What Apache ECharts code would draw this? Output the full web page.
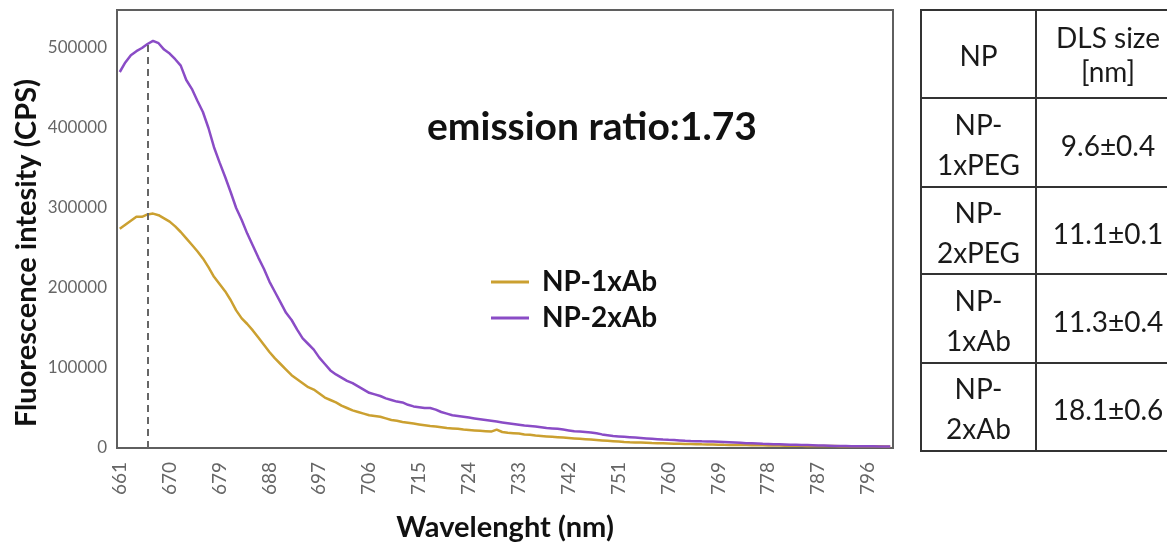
<!DOCTYPE html>
<html>
<head>
<meta charset="utf-8">
<script src="https://cdn.jsdelivr.net/npm/echarts@6/dist/echarts.min.js"></script>
<style>
html,body{margin:0;padding:0;background:#fff;}
#chart{width:1167px;height:544px;}
</style>
</head>
<body>
<div id="chart"></div>
<script>
// ---- data ----
const wavelengthStart = 661;
const wavelengthEnd = 800;
const wavelengths = [];
for (let w = wavelengthStart; w <= wavelengthEnd; w++) wavelengths.push(String(w));

// values in thousands of CPS, one per nm from 661 to 800
const np1xAb_k = [
274,279,284,289,289,292,293,291,287,283,
277,270,262,254,246,237,226,214,205,196,
185,172,162,155,147,138,129,120,112,105,
98,91,86,81,76,73,68,63,60,57,
53,50,47,45,43,41,40,39,37,35,
34,32.5,31.5,30.5,29.5,28.5,27.5,27,26,25,
24.5,24,23,22.5,22,21.5,21,20.5,23,20,
19,18.5,18,17,16.5,15.5,15,14.5,14,13.5,
13,12.5,12,11.5,11,10.5,10,9.5,9,8.5,
8,7.5,7.2,7,6.8,6.5,6.2,6,5.8,5.6,
5.4,5.2,5,4.9,4.8,4.6,4.5,4.4,4.2,4,
3.9,3.8,3.7,3.6,3.5,3.4,3.3,3.2,3.1,3.0,
2.9,2.8,2.7,2.7,2.6,2.6,2.5,2.5,2.4,2.4,
2.3,2.3,2.3,2.2,2.2,2.2,2.1,2.1,2.0,2.0
];
const np2xAb_k = [
470,482,491,496,500,505,509,506,498,493,
486,478,460,449,434,420,400,376,357,339,
320,300,285,268,253,238,224,208,195,182,
169,160,148,137,130,123,113,105,97,92,
88,84,81,77,73,69,67,65,62,60,
58,57,54,52,51,50,50,48,45,43,
41,40,39,38,37,36,35,34,33,32,
31,30,29,28,27.5,27,26,25,24.5,24,
23,22,21,20.5,20,19.5,18.5,17,16,15,
14.5,14,13.5,13,12.5,12,11.5,11,10.5,10.2,
10,9.5,9,8.7,8.5,8.3,8.2,8,7.8,7.6,
7.3,7,6.5,6,5.8,5.5,5.2,5,4.8,4.6,
4.4,4.2,4,3.8,3.6,3.4,3.2,3,2.8,2.6,
2.5,2.4,2.3,2.2,2.2,2.1,2.1,2.0,2.0,2.0
];
const seriesNames = ['NP-1xAb', 'NP-2xAb'];
const peakWavelength = '666';
const peakValue = 509000;
const annotationText = 'emission ratio:1.73';
const yAxisTitle = 'Fluorescence intesity (CPS)';
const xAxisTitle = 'Wavelenght (nm)';

const tableHeader = ['NP', 'DLS size\n[nm]'];
const tableNames = ['NP-\n1xPEG', 'NP-\n2xPEG', 'NP-\n1xAb', 'NP-\n2xAb'];
const tableSizes = ['9.6±0.4', '11.1±0.1', '11.3±0.4', '18.1±0.6'];

// ---- styles / layout ----
const FONT = 'Lato';
const gold = '#CBA030';
const purple = '#8A4CC6';
const axisGray = '#5f5f5f';

const gridLeft = 117, gridTop = 10, gridRight = 1167 - 893, gridBottom = 544 - 448;

// table layout
const tX0 = 921, tX1 = 1036, tX2 = 1185;
const rowYs = [10, 98, 187, 274, 363, 451];
const tableGraphics = [];
const lineStyle = {stroke: '#333', lineWidth: 2};
tableGraphics.push({type: 'rect', shape: {x: tX0, y: rowYs[0], width: tX2 - tX0, height: rowYs[rowYs.length - 1] - rowYs[0]}, style: {fill: 'none', stroke: '#333', lineWidth: 2}});
tableGraphics.push({type: 'line', shape: {x1: tX1, y1: rowYs[0], x2: tX1, y2: rowYs[rowYs.length - 1]}, style: lineStyle});
for (let i = 1; i < rowYs.length - 1; i++) {
  tableGraphics.push({type: 'line', shape: {x1: tX0, y1: rowYs[i], x2: tX2, y2: rowYs[i]}, style: lineStyle});
}
const c1 = (tX0 + tX1) / 2, c2 = 1108;
const cellText = (txt, x, y, lh) => ({
  type: 'text', x: x, y: y,
  style: {text: txt, font: '28px ' + FONT, fill: '#1a1a1a', align: 'center', verticalAlign: 'middle', lineHeight: lh || 40}
});
tableGraphics.push(cellText(tableHeader[0], c1, (rowYs[0] + rowYs[1]) / 2 + 3));
tableGraphics.push(cellText(tableHeader[1], c2, (rowYs[0] + rowYs[1]) / 2 + 2, 34));
for (let i = 0; i < tableNames.length; i++) {
  const cy = (rowYs[i + 1] + rowYs[i + 2]) / 2 + 3;
  tableGraphics.push(cellText(tableNames[i], c1, cy));
  tableGraphics.push(cellText(tableSizes[i], c2, cy + 1));
}

const chart = echarts.init(document.getElementById('chart'), null, {renderer: 'canvas'});
const option = {
  animation: false,
  backgroundColor: '#fff',
  grid: {left: gridLeft, right: gridRight, top: gridTop, bottom: gridBottom, show: true, borderColor: axisGray, borderWidth: 2, containLabel: false, outerBoundsMode: 'none'},
  legend: {
    data: seriesNames,
    orient: 'vertical',
    left: 486, top: 263,
    icon: 'rect',
    itemWidth: 38, itemHeight: 3,
    itemGap: 8,
    textStyle: {fontFamily: FONT, fontWeight: 'bold', fontSize: 28, color: '#111', lineHeight: 28, padding: [0, 0, 0, 8]}
  },
  xAxis: {
    type: 'category',
    data: wavelengths,
    boundaryGap: true,
    name: xAxisTitle,
    nameLocation: 'middle',
    nameGap: 65,
    nameTextStyle: {fontFamily: FONT, fontWeight: 'bold', fontSize: 29, color: '#111'},
    axisLine: {show: true, lineStyle: {color: axisGray, width: 2}},
    axisTick: {show: false},
    axisLabel: {interval: 8, rotate: 90, margin: 14, fontFamily: FONT, fontSize: 19, color: '#666'},
    splitLine: {show: false}
  },
  yAxis: {
    type: 'value',
    min: 0, max: 547500, interval: 100000,
    axisLine: {show: true, lineStyle: {color: axisGray, width: 2}},
    axisTick: {show: false},
    axisLabel: {showMaxLabel: false, margin: 10, fontFamily: FONT, fontSize: 17, color: '#666',
      formatter: v => (v > 500000 ? '' : String(v))},
    splitLine: {show: false}
  },
  graphic: [
    {type: 'text', x: 27, y: 253, rotation: Math.PI / 2,
      style: {text: yAxisTitle, font: 'bold 29px ' + FONT, fill: '#111', align: 'center', verticalAlign: 'middle'}},
    {type: 'text', x: 592, y: 127,
      style: {text: annotationText, font: 'bold 39px ' + FONT, fill: '#111', align: 'center', verticalAlign: 'middle'}}
  ].concat(tableGraphics),
  series: [
    {
      name: seriesNames[0], type: 'line', data: np1xAb_k.map(v => v * 1000),
      showSymbol: false, symbol: 'none', color: gold,
      lineStyle: {color: gold, width: 2.5},
      markLine: {
        silent: true, symbol: 'none', label: {show: false},
        lineStyle: {color: '#666', type: [7, 5], width: 2},
        data: [[{coord: [peakWavelength, 0]}, {coord: [peakWavelength, peakValue]}]]
      }
    },
    {
      name: seriesNames[1], type: 'line', data: np2xAb_k.map(v => v * 1000),
      showSymbol: false, symbol: 'none', color: purple,
      lineStyle: {color: purple, width: 2.5}
    }
  ]
};
chart.setOption(option);
</script>
</body>
</html>
